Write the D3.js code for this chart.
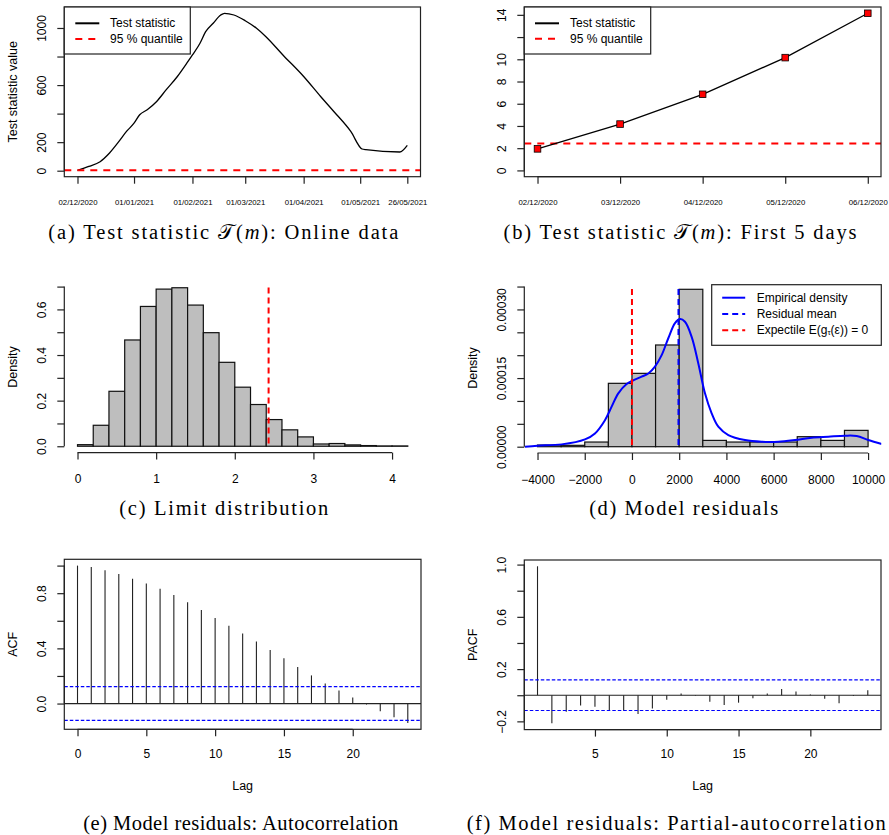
<!DOCTYPE html>
<html>
<head>
<meta charset="utf-8">
<script src="https://cdn.jsdelivr.net/npm/d3@7"></script>
<style>
  body { margin: 0; background: #fff; }
  text { font-family: "Liberation Sans", Arial, sans-serif; fill: #000; }
</style>
</head>
<body>
<script>
// (a) test statistic, online data
const onlineDates = ["2020-12-02", "2020-12-08", "2020-12-14", "2020-12-19", "2020-12-24", "2020-12-28",
  "2021-01-01", "2021-01-04", "2021-01-08", "2021-01-13", "2021-01-18", "2021-01-24", "2021-01-29",
  "2021-02-01", "2021-02-05", "2021-02-08", "2021-02-12", "2021-02-16", "2021-02-18", "2021-02-23",
  "2021-03-01", "2021-03-07", "2021-03-12", "2021-03-21", "2021-04-01", "2021-04-10", "2021-04-17",
  "2021-04-26", "2021-05-02", "2021-05-04", "2021-05-22", "2021-05-26"];
const onlineStat = [2, 30, 63, 124, 205, 275, 333, 392, 427, 485, 566, 660, 753, 811, 893, 974, 1033,
  1091, 1103, 1091, 1051, 998, 939, 811, 660, 520, 415, 275, 152, 147, 131, 177];
const onlineTicks = ["2020-12-02", "2021-01-01", "2021-02-01", "2021-03-01", "2021-04-01", "2021-05-01", "2021-05-26"];
const quantile95 = 2.43;

// (b) first 5 days
const firstDays = ["02/12/2020", "03/12/2020", "04/12/2020", "05/12/2020", "06/12/2020"];
const firstStat = [1.94, 4.17, 6.85, 10.15, 14.14];

// (c) limit distribution histogram
const limitBreaks = [0, 0.2, 0.4, 0.6, 0.8, 1.0, 1.2, 1.4, 1.6, 1.8, 2.0, 2.2, 2.4, 2.6, 2.8, 3.0, 3.2, 3.4, 3.6, 3.8, 4.0, 4.2];
const limitDensity = [0.007, 0.092, 0.241, 0.466, 0.613, 0.689, 0.695, 0.619, 0.498, 0.368, 0.259,
  0.183, 0.117, 0.072, 0.041, 0.010, 0.012, 0.006, 0.003, 0.0015, 0.0015];

// (d) model residuals
const residBreaks = [-4000, -3000, -2000, -1000, 0, 1000, 2000, 3000, 4000, 5000, 6000, 7000, 8000, 9000, 10000];
const residDensity = [0.0000036, 0.000003, 0.0000102, 0.0001385, 0.0001603, 0.0002223, 0.000344,
  0.0000138, 0.0000102, 0.0000102, 0.0000102, 0.0000219, 0.0000138, 0.0000357];
const kdeX = [-4533, -3996, -2979, -1990, -1567, -1144, -861, -579, -226, 0, 409, 692, 974, 1257, 1539,
  1822, 2033, 2245, 2528, 2810, 3092, 3375, 3657, 4081, 4787, 5493, 6199, 6905, 7611, 8317, 9023, 9517, 10011, 10576];
const kdeY = [0, 0.0000022, 0.0000051, 0.000016, 0.000029, 0.000058, 0.0000875, 0.0001166, 0.000137,
  0.0001436, 0.000153, 0.00016, 0.000175, 0.0002, 0.000237, 0.00027, 0.000279, 0.000273, 0.00024,
  0.000182, 0.0001166, 0.0000729, 0.0000437, 0.0000255, 0.0000146, 0.0000109, 0.0000109, 0.0000146,
  0.0000197, 0.0000219, 0.000024, 0.0000233, 0.0000146, 0.0000058];
const residMean = 1970;
const expectileZero = 0;

// (e) ACF
const acfLag = [0, 1, 2, 3, 4, 5, 6, 7, 8, 9, 10, 11, 12, 13, 14, 15, 16, 17, 18, 19, 20, 21, 22, 23, 24];
const acfVal = [1.0, 0.990, 0.966, 0.939, 0.905, 0.871, 0.832, 0.786, 0.734, 0.679, 0.620, 0.564, 0.508,
  0.450, 0.389, 0.328, 0.265, 0.204, 0.146, 0.095, 0.044, -0.007, -0.056, -0.100, -0.141];
const acfCI = 0.122;

// (f) PACF
const pacfLag = [1, 2, 3, 4, 5, 6, 7, 8, 9, 10, 11, 12, 13, 14, 15, 16, 17, 18, 19, 20, 21, 22, 23, 24];
const pacfVal = [0.987, -0.215, -0.126, -0.078, -0.088, -0.113, -0.118, -0.144, -0.101, -0.034, 0.014,
  -0.004, -0.05, -0.075, -0.057, -0.024, 0.014, 0.047, 0.029, 0.006, -0.027, -0.062, -0.006, 0.039];
const pacfCI = 0.117;

const W = 889, H = 835;
const TICK = 12, TITLE = 12.5, LEG = 12;

const svg = d3.select("body").append("svg").attr("width", W).attr("height", H);

// R pads axis ranges by 4 % on each side
function rpad(ext) {
  const d = (ext[1] - ext[0]) * 0.04;
  return [ext[0] - d, ext[1] + d];
}

function box(r) {
  svg.append("rect")
    .attr("x", r.x0).attr("y", r.y0)
    .attr("width", r.x1 - r.x0).attr("height", r.y1 - r.y0)
    .attr("fill", "none").attr("stroke", "#222").attr("stroke-width", 1.2);
}

// left axis, R style: rotated labels, line from first to last tick
function leftAxis(r, y, ticks, labelled, fmt) {
  const g = svg.append("g").attr("transform", "translate(" + r.x0 + ",0)");
  g.call(d3.axisLeft(y).tickValues(ticks).tickSize(7).tickSizeOuter(0)
    .tickFormat(d => labelled.some(l => Math.abs(l - d) < 1e-9) ? fmt(d) : ""));
  g.select(".domain").remove();
  g.append("line")
    .attr("y1", y(ticks[0])).attr("y2", y(ticks[ticks.length - 1]))
    .attr("stroke", "#222").attr("stroke-width", 1.2);
  g.selectAll(".tick line").attr("stroke", "#222").attr("stroke-width", 1.2);
  g.selectAll(".tick text")
    .attr("x", 0).attr("y", 0).attr("dy", null)
    .attr("transform", "translate(-22.6,0) rotate(-90)")
    .attr("text-anchor", "middle")
    .attr("dominant-baseline", "central")
    .attr("font-family", null).attr("font-size", null)
    .style("font-size", TICK + "px");
  g.attr("font-family", null).attr("font-size", null);
  return g;
}

function bottomAxis(r, x, ticks, fmt, fs, off) {
  const g = svg.append("g").attr("transform", "translate(0," + r.y1 + ")");
  g.call(d3.axisBottom(x).tickValues(ticks).tickSize(7).tickSizeOuter(0).tickFormat(fmt));
  g.select(".domain").remove();
  g.append("line")
    .attr("x1", x(ticks[0])).attr("x2", x(ticks[ticks.length - 1]))
    .attr("stroke", "#222").attr("stroke-width", 1.2);
  g.selectAll(".tick line").attr("stroke", "#222").attr("stroke-width", 1.2);
  g.selectAll(".tick text")
    .attr("y", off).attr("dy", "0.35em")
    .attr("font-family", null).attr("font-size", null)
    .style("font-size", fs + "px");
  g.attr("font-family", null).attr("font-size", null);
  return g;
}

function yTitle(x, r, label) {
  svg.append("text")
    .attr("transform", "translate(" + x + "," + (r.y0 + r.y1) / 2 + ") rotate(-90)")
    .attr("text-anchor", "middle").attr("dominant-baseline", "central")
    .style("font-size", TITLE + "px")
    .text(label);
}

// serif sub-figure caption, stretched to the width it has in the document
function caption(x, y, len, parts, anchor) {
  const t = svg.append("text")
    .attr("x", x).attr("y", y)
    .attr("text-anchor", anchor || "middle")
    .attr("dominant-baseline", "central")
    .attr("textLength", len)
    .attr("lengthAdjust", "spacing")
    .style("font-family", "'Liberation Serif', 'DejaVu Serif', serif")
    .style("font-size", "20.5px");
  parts.forEach(p => {
    t.append("tspan").text(p[0]).style("font-style", p[1] === "i" ? "italic" : null);
  });
}

function legend(x0, y0, w, rows, entries) {
  const g = svg.append("g");
  g.append("rect")
    .attr("x", x0).attr("y", y0).attr("width", w).attr("height", rows.h)
    .attr("fill", "#fff").attr("stroke", "#222").attr("stroke-width", 1.2);
  entries.forEach((e, i) => {
    const yy = y0 + rows.first + i * rows.step;
    g.append("line")
      .attr("x1", x0 + rows.l1).attr("x2", x0 + rows.l2)
      .attr("y1", yy).attr("y2", yy)
      .attr("stroke", e.color).attr("stroke-width", 2)
      .attr("stroke-dasharray", e.dash || null);
    const t = g.append("text")
      .attr("x", x0 + rows.tx).attr("y", yy)
      .attr("dominant-baseline", "central")
      .style("font-size", LEG + "px");
    e.parts.forEach(p => {
      const s = t.append("tspan").text(p[0]);
      if (p[1] === "sub") s.attr("baseline-shift", "-30%").style("font-size", "8px");
    });
  });
}

const fmtDate = d3.utcFormat("%d/%m/%Y");
const parseDate = d3.utcParse("%Y-%m-%d");

// ---------------- (a)
{
  const r = { x0: 64.3, x1: 420.5, y0: 7, y1: 176.7 };
  const dates = onlineDates.map(parseDate);
  const x = d3.scaleUtc().domain(rpad(d3.extent(dates).map(Number))).range([r.x0, r.x1]);
  const y = d3.scaleLinear().domain(rpad(d3.extent(onlineStat))).range([r.y1, r.y0]);

  svg.append("path")
    .datum(onlineStat)
    .attr("fill", "none").attr("stroke", "#000").attr("stroke-width", 1.3)
    .attr("d", d3.line().x((d, i) => x(dates[i])).y(d => y(d)).curve(d3.curveMonotoneX));

  svg.append("line")
    .attr("x1", r.x0).attr("x2", r.x1).attr("y1", y(quantile95)).attr("y2", y(quantile95))
    .attr("stroke", "red").attr("stroke-width", 2).attr("stroke-dasharray", "7,6");

  box(r);
  leftAxis(r, y, [0, 200, 400, 600, 800, 1000], [0, 200, 600, 1000], d3.format("d"));
  bottomAxis(r, x, onlineTicks.map(parseDate), fmtDate, 7.8, 26);
  yTitle(13.3, r, "Test statistic value");

  legend(r.x0, r.y0, 126, { h: 47, first: 16.3, step: 15.7, l1: 11, l2: 35, tx: 45.7 }, [
    { color: "#000", parts: [["Test statistic"]] },
    { color: "red", dash: "7,6", parts: [["95 % quantile"]] }
  ]);

  caption(223.3, 232, 350, [["(a) Test statistic "], ["\u{1D4AF}"], ["("], ["m", "i"], ["): Online data"]]);
}

// ---------------- (b)
{
  const r = { x0: 524.3, x1: 881, y0: 7, y1: 176.7 };
  const idx = firstDays.map((d, i) => i);
  const x = d3.scaleLinear().domain(rpad([0, firstDays.length - 1])).range([r.x0, r.x1]);
  const y = d3.scaleLinear().domain(rpad([0, d3.max(firstStat)])).range([r.y1, r.y0]);

  svg.append("line")
    .attr("x1", r.x0).attr("x2", r.x1).attr("y1", y(quantile95)).attr("y2", y(quantile95))
    .attr("stroke", "red").attr("stroke-width", 2).attr("stroke-dasharray", "7,6");

  svg.append("path")
    .datum(firstStat)
    .attr("fill", "none").attr("stroke", "#000").attr("stroke-width", 1.3)
    .attr("d", d3.line().x((d, i) => x(i)).y(d => y(d)));

  svg.selectAll(".sq")
    .data(firstStat)
    .enter()
    .append("rect")
    .attr("x", (d, i) => x(i) - 3.3).attr("y", d => y(d) - 3.3)
    .attr("width", 6.6).attr("height", 6.6)
    .attr("fill", "red").attr("stroke", "#000").attr("stroke-width", 0.8);

  box(r);
  leftAxis(r, y, [0, 2, 4, 6, 8, 10, 12, 14], [0, 2, 4, 6, 8, 10, 14], d3.format("d"));
  bottomAxis(r, x, idx, i => firstDays[i], 7.8, 26);

  legend(r.x0, r.y0, 126.4, { h: 47, first: 16.3, step: 15.5, l1: 10.7, l2: 34.7, tx: 45.7 }, [
    { color: "#000", parts: [["Test statistic"]] },
    { color: "red", dash: "7,6", parts: [["95 % quantile"]] }
  ]);

  caption(680, 232, 353, [["(b) Test statistic "], ["\u{1D4AF}"], ["("], ["m", "i"], ["): First 5 days"]]);
}

// ---------------- (c)
{
  const r = { x0: 64.3, x1: 421, y0: 281.4, y1: 452.6 };
  const x = d3.scaleLinear().domain(rpad(d3.extent(limitBreaks))).range([r.x0, r.x1]);
  const y = d3.scaleLinear().domain(rpad([0, d3.max(limitDensity)])).range([r.y1, r.y0]);

  svg.selectAll(".barc")
    .data(limitDensity)
    .enter()
    .append("rect")
    .attr("x", (d, i) => x(limitBreaks[i]))
    .attr("width", (d, i) => x(limitBreaks[i + 1]) - x(limitBreaks[i]))
    .attr("y", d => y(d))
    .attr("height", d => y(0) - y(d))
    .attr("fill", "#bebebe").attr("stroke", "#111").attr("stroke-width", 1.2);

  svg.append("line")
    .attr("x1", x(quantile95)).attr("x2", x(quantile95))
    .attr("y1", r.y0 + 6).attr("y2", y(0))
    .attr("stroke", "red").attr("stroke-width", 2).attr("stroke-dasharray", "6,4");

  leftAxis(r, y, [0, 0.1, 0.2, 0.3, 0.4, 0.5, 0.6, 0.7], [0, 0.2, 0.4, 0.6], d3.format(".1f"));
  bottomAxis(r, x, [0, 1, 2, 3, 4], d3.format("d"), TICK, 26.7);
  yTitle(13.3, r, "Density");

  caption(223.8, 508.3, 209, [["(c) Limit distribution"]]);
}

// ---------------- (d)
{
  const r = { x0: 524.3, x1: 881.3, y0: 283, y1: 453 };
  const x = d3.scaleLinear().domain(rpad(d3.extent(residBreaks))).range([r.x0, r.x1]);
  const y = d3.scaleLinear().domain(rpad([0, d3.max(residDensity)])).range([r.y1, r.y0]);

  svg.append("clipPath").attr("id", "clipd")
    .append("rect").attr("x", r.x0).attr("y", r.y0).attr("width", r.x1 - r.x0).attr("height", r.y1 - r.y0);

  svg.selectAll(".bard")
    .data(residDensity)
    .enter()
    .append("rect")
    .attr("x", (d, i) => x(residBreaks[i]))
    .attr("width", (d, i) => x(residBreaks[i + 1]) - x(residBreaks[i]))
    .attr("y", d => y(d))
    .attr("height", d => y(0) - y(d))
    .attr("fill", "#bebebe").attr("stroke", "#111").attr("stroke-width", 1.2);

  svg.append("path")
    .datum(kdeY)
    .attr("clip-path", "url(#clipd)")
    .attr("fill", "none").attr("stroke", "#0000ff").attr("stroke-width", 2)
    .attr("d", d3.line().x((d, i) => x(kdeX[i])).y(d => y(d)).curve(d3.curveCatmullRom));

  svg.append("line")
    .attr("x1", x(expectileZero)).attr("x2", x(expectileZero))
    .attr("y1", r.y0 + 6).attr("y2", y(0))
    .attr("stroke", "red").attr("stroke-width", 2).attr("stroke-dasharray", "6,4");
  svg.append("line")
    .attr("x1", x(residMean)).attr("x2", x(residMean))
    .attr("y1", r.y0 + 6).attr("y2", y(0))
    .attr("stroke", "#0000ff").attr("stroke-width", 2).attr("stroke-dasharray", "6,4");

  leftAxis(r, y, [0, 0.00005, 0.0001, 0.00015, 0.0002, 0.00025, 0.0003, 0.00035],
    [0, 0.00015, 0.0003], d3.format(".5f"));
  bottomAxis(r, x, [-4000, -2000, 0, 2000, 4000, 6000, 8000, 10000], d3.format("d"), TICK, 26.7);
  yTitle(473.3, r, "Density");

  legend(711.7, 284.7, 169.6, { h: 60.6, first: 13, step: 16.3, l1: 10.5, l2: 33.5, tx: 45 }, [
    { color: "#0000ff", parts: [["Empirical density"]] },
    { color: "#0000ff", dash: "6,4", parts: [["Residual mean"]] },
    { color: "red", dash: "6,4", parts: [["Expectile E(g"], ["\u03c4", "sub"], ["(\u03b5)) = 0"]] }
  ]);

  caption(683.7, 508.3, 189, [["(d) Model residuals"]]);
}

// ---------------- (e)
{
  const r = { x0: 64.3, x1: 421, y0: 559.3, y1: 729.3 };
  const x = d3.scaleLinear().domain(rpad(d3.extent(acfLag))).range([r.x0, r.x1]);
  const y = d3.scaleLinear()
    .domain(rpad([Math.min(d3.min(acfVal), -acfCI), Math.max(d3.max(acfVal), acfCI)]))
    .range([r.y1, r.y0]);

  svg.selectAll(".acf")
    .data(acfVal)
    .enter()
    .append("line")
    .attr("x1", (d, i) => x(acfLag[i])).attr("x2", (d, i) => x(acfLag[i]))
    .attr("y1", y(0)).attr("y2", d => y(d))
    .attr("stroke", "#222").attr("stroke-width", 1.1);

  svg.append("line")
    .attr("x1", r.x0).attr("x2", r.x1).attr("y1", y(0)).attr("y2", y(0))
    .attr("stroke", "#222").attr("stroke-width", 1.2);
  [acfCI, -acfCI].forEach(c => {
    svg.append("line")
      .attr("x1", r.x0).attr("x2", r.x1).attr("y1", y(c)).attr("y2", y(c))
      .attr("stroke", "#0000ff").attr("stroke-width", 1.2).attr("stroke-dasharray", "3.5,2");
  });

  box(r);
  leftAxis(r, y, [0, 0.2, 0.4, 0.6, 0.8, 1.0], [0, 0.4, 0.8], d3.format(".1f"));
  bottomAxis(r, x, [0, 5, 10, 15, 20], d3.format("d"), TICK, 24.7);
  yTitle(13.3, r, "ACF");
  svg.append("text")
    .attr("x", (r.x0 + r.x1) / 2).attr("y", r.y1 + 56.7)
    .attr("text-anchor", "middle").attr("dominant-baseline", "central")
    .style("font-size", TITLE + "px").text("Lag");

  caption(240.8, 822.7, 315, [["(e) Model residuals: Autocorrelation"]]);
}

// ---------------- (f)
{
  const r = { x0: 524.3, x1: 881, y0: 560, y1: 729.6 };
  const x = d3.scaleLinear().domain(rpad(d3.extent(pacfLag))).range([r.x0, r.x1]);
  const y = d3.scaleLinear()
    .domain(rpad([Math.min(d3.min(pacfVal), -pacfCI), Math.max(d3.max(pacfVal), pacfCI)]))
    .range([r.y1, r.y0]);

  svg.selectAll(".pacf")
    .data(pacfVal)
    .enter()
    .append("line")
    .attr("x1", (d, i) => x(pacfLag[i])).attr("x2", (d, i) => x(pacfLag[i]))
    .attr("y1", y(0)).attr("y2", d => y(d))
    .attr("stroke", "#222").attr("stroke-width", 1.1);

  svg.append("line")
    .attr("x1", r.x0).attr("x2", r.x1).attr("y1", y(0)).attr("y2", y(0))
    .attr("stroke", "#222").attr("stroke-width", 1.2);
  [pacfCI, -pacfCI].forEach(c => {
    svg.append("line")
      .attr("x1", r.x0).attr("x2", r.x1).attr("y1", y(c)).attr("y2", y(c))
      .attr("stroke", "#0000ff").attr("stroke-width", 1.2).attr("stroke-dasharray", "3.5,2");
  });

  box(r);
  leftAxis(r, y, [-0.2, 0, 0.2, 0.4, 0.6, 0.8, 1.0], [-0.2, 0.2, 0.6, 1.0], d3.format(".1f"));
  bottomAxis(r, x, [5, 10, 15, 20], d3.format("d"), TICK, 24.7);
  yTitle(473.3, r, "PACF");
  svg.append("text")
    .attr("x", (r.x0 + r.x1) / 2).attr("y", r.y1 + 56.7)
    .attr("text-anchor", "middle").attr("dominant-baseline", "central")
    .style("font-size", TITLE + "px").text("Lag");

  caption(466.7, 822.7, 419, [["(f) Model residuals: Partial-autocorrelation"]], "start");
}
</script>
</body>
</html>
